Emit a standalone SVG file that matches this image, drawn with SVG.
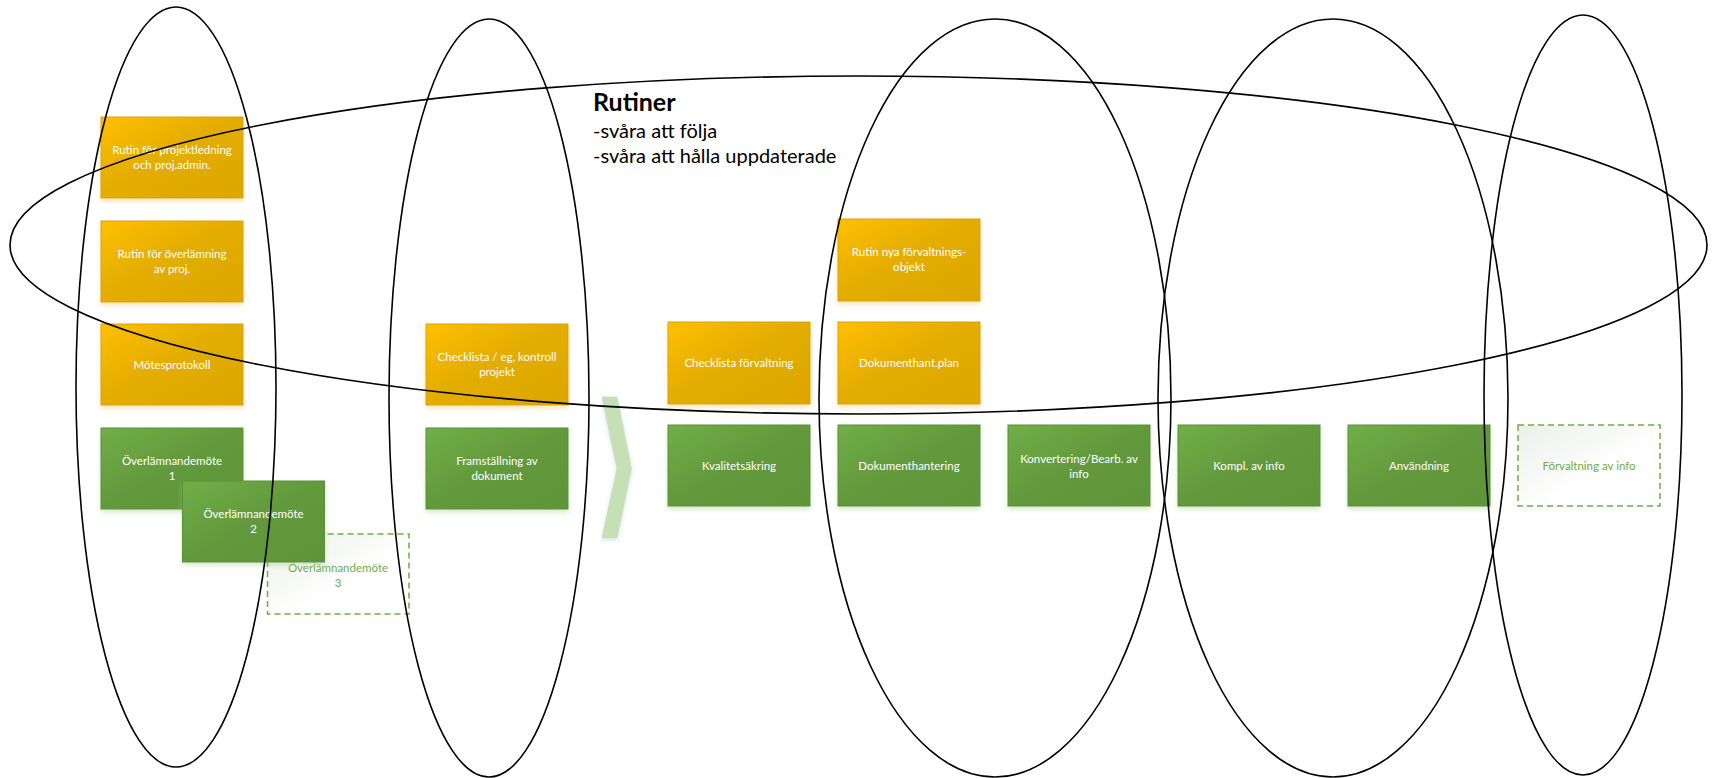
<svg xmlns="http://www.w3.org/2000/svg" width="1715" height="778" viewBox="0 0 1715 778">
  <defs>
    <linearGradient id="gOrange" x1="0" y1="0" x2="1" y2="1">
      <stop offset="0" stop-color="#FFC000"/>
      <stop offset="0.45" stop-color="#E4AD00"/>
      <stop offset="1" stop-color="#DCA600"/>
    </linearGradient>
    <linearGradient id="gGreen" x1="0" y1="0" x2="1" y2="1">
      <stop offset="0" stop-color="#71AE48"/>
      <stop offset="0.5" stop-color="#62993C"/>
      <stop offset="1" stop-color="#5E9539"/>
    </linearGradient>
    <linearGradient id="gGhost" x1="0" y1="0" x2="1" y2="1">
      <stop offset="0" stop-color="#EBEFE9"/>
      <stop offset="0.6" stop-color="#FFFFFF"/>
    </linearGradient>
    <filter id="glowO" x="-10%" y="-10%" width="120%" height="135%">
      <feDropShadow dx="0" dy="3" stdDeviation="2.5" flood-color="#F5C870" flood-opacity="0.45"/>
    </filter>
    <filter id="glowG" x="-10%" y="-10%" width="120%" height="135%">
      <feDropShadow dx="0" dy="3" stdDeviation="2.5" flood-color="#A9CF8E" flood-opacity="0.45"/>
    </filter>
    <filter id="glowC" x="-30%" y="-10%" width="160%" height="120%">
      <feDropShadow dx="0" dy="2" stdDeviation="2" flood-color="#B4C7E7" flood-opacity="0.6"/>
    </filter>
  </defs>
  <style>
    .orange rect { fill: url(#gOrange); stroke: #D9A300; stroke-width: 1; filter: url(#glowO); }
    .green rect { fill: url(#gGreen); stroke: #5A8F38; stroke-width: 1; filter: url(#glowG); }
    .ghost rect { fill: url(#gGhost); stroke: #70AD47; stroke-width: 1.5; stroke-dasharray: 6 4; }
    .lbl { font-family: Lato, "Liberation Sans", sans-serif; font-size: 11.5px; fill: #FFFFFF; text-anchor: middle; }
    .ghost .lbl { fill: #70AD47; }
    .ring { fill: none; stroke: #000000; stroke-width: 1.6; }
    .head { font-family: Lato, "Liberation Sans", sans-serif; fill: #000000; }
  </style>

  <!-- column 1: project hand-over -->
  <g id="rutin-projektledning" class="orange">
    <rect x="101" y="117" width="142" height="81"/>
    <text class="lbl" x="172" y="154">Rutin för projektledning</text>
    <text class="lbl" x="172" y="169">och proj.admin.</text>
  </g>
  <g id="rutin-overlamning" class="orange">
    <rect x="101" y="221" width="142" height="81"/>
    <text class="lbl" x="172" y="258">Rutin för överlämning</text>
    <text class="lbl" x="172" y="273">av proj.</text>
  </g>
  <g id="motesprotokoll" class="orange">
    <rect x="101" y="324" width="142" height="81"/>
    <text class="lbl" x="172" y="369">Mötesprotokoll</text>
  </g>
  <g id="overlamnandemote-1" class="green">
    <rect x="101" y="428" width="142" height="81"/>
    <text class="lbl" x="172" y="465">Överlämnandemöte</text>
    <text class="lbl" x="172" y="480">1</text>
  </g>
  <g id="overlamnandemote-3" class="ghost">
    <rect x="267.5" y="534" width="141.5" height="80"/>
    <text class="lbl" x="338" y="572">Överlämnandemöte</text>
    <text class="lbl" x="338" y="587">3</text>
  </g>
  <g id="overlamnandemote-2" class="green">
    <rect x="182.5" y="481" width="142" height="81"/>
    <text class="lbl" x="253.5" y="518">Överlämnandemöte</text>
    <text class="lbl" x="253.5" y="533">2</text>
  </g>

  <!-- column 2: production -->
  <g id="checklista-kontroll" class="orange">
    <rect x="426" y="324" width="142" height="81"/>
    <text class="lbl" x="497" y="361">Checklista / eg, kontroll</text>
    <text class="lbl" x="497" y="376">projekt</text>
  </g>
  <g id="framstallning" class="green">
    <rect x="426" y="428" width="142" height="81"/>
    <text class="lbl" x="497" y="465">Framställning av</text>
    <text class="lbl" x="497" y="480">dokument</text>
  </g>

  <!-- management chain -->
  <g id="checklista-forvaltning" class="orange">
    <rect x="668" y="322" width="142" height="82"/>
    <text class="lbl" x="739" y="367">Checklista förvaltning</text>
  </g>
  <g id="kvalitetsakring" class="green">
    <rect x="668" y="425" width="142" height="81"/>
    <text class="lbl" x="739" y="470">Kvalitetsäkring</text>
  </g>
  <g id="rutin-nya-objekt" class="orange">
    <rect x="838" y="219" width="142" height="82"/>
    <text class="lbl" x="909" y="256">Rutin nya förvaltnings-</text>
    <text class="lbl" x="909" y="271">objekt</text>
  </g>
  <g id="dokumenthant-plan" class="orange">
    <rect x="838" y="322" width="142" height="82"/>
    <text class="lbl" x="909" y="367">Dokumenthant.plan</text>
  </g>
  <g id="dokumenthantering" class="green">
    <rect x="838" y="425" width="142" height="81"/>
    <text class="lbl" x="909" y="470">Dokumenthantering</text>
  </g>
  <g id="konvertering" class="green">
    <rect x="1008" y="425" width="142" height="81"/>
    <text class="lbl" x="1079" y="463">Konvertering/Bearb. av</text>
    <text class="lbl" x="1079" y="478">info</text>
  </g>
  <g id="kompl-info" class="green">
    <rect x="1178" y="425" width="142" height="81"/>
    <text class="lbl" x="1249" y="470">Kompl. av info</text>
  </g>
  <g id="anvandning" class="green">
    <rect x="1348" y="425" width="142" height="81"/>
    <text class="lbl" x="1419" y="470">Användning</text>
  </g>
  <g id="forvaltning-info" class="ghost">
    <rect x="1518" y="425" width="142" height="81"/>
    <text class="lbl" x="1589" y="470">Förvaltning av info</text>
  </g>

  <!-- connectors -->
  <g id="connectors">
    <polygon points="601.7,396.7 617.3,396.7 631.7,468.3 617.3,538 601.7,538 616.7,468.3" fill="#C5E0B4" filter="url(#glowC)"/>
  </g>

  <!-- phase rings -->
  <g id="phase-rings">
    <ellipse class="ring" cx="176" cy="387" rx="100" ry="380"/>
    <ellipse class="ring" cx="489" cy="398" rx="100" ry="379"/>
    <ellipse class="ring" cx="995" cy="398" rx="176" ry="379"/>
    <ellipse class="ring" cx="1333" cy="398" rx="175" ry="379"/>
    <ellipse class="ring" cx="1583" cy="395" rx="99" ry="380"/>
  </g>

  <!-- routines ring and note -->
  <g id="rutiner">
    <ellipse class="ring" cx="858.5" cy="245" rx="848.5" ry="169"/>
    <text class="head" x="593" y="111" font-size="25" font-weight="bold">Rutiner</text>
    <text class="head" x="593" y="138" font-size="20">-svåra att följa</text>
    <text class="head" x="593" y="163" font-size="20">-svåra att hålla uppdaterade</text>
  </g>
</svg>
